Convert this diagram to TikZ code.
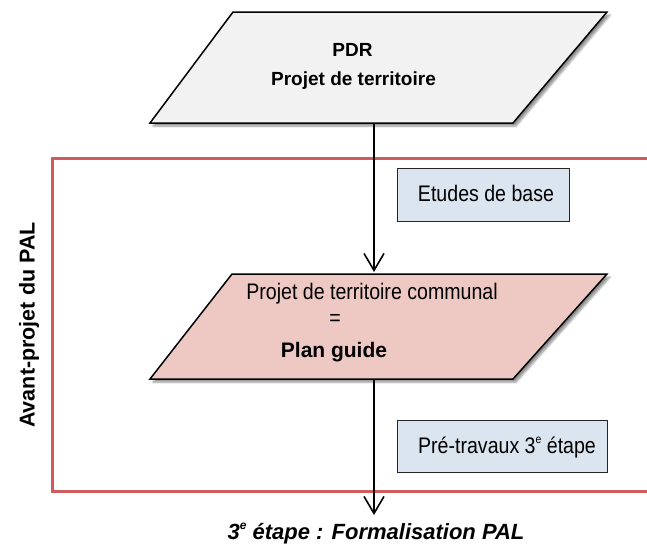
\documentclass[tikz,border=0pt]{standalone}
\usepackage{fontspec}
\setmainfont{Liberation Sans}
\newfontfamily\narrowf[FakeStretch=0.87]{Liberation Sans}
\usetikzlibrary{arrows.meta,shadows.blur}
\definecolor{redline}{RGB}{206,92,92}
\definecolor{greyfill}{RGB}{242,242,242}
\definecolor{pinkfill}{RGB}{238,201,196}
\definecolor{bluefill}{RGB}{219,229,240}
\newcommand{\supe}{\raisebox{0.42em}{\fontsize{12}{12}\selectfont e}}
\tikzset{
  para/.style={draw=black, line width=1.5pt, line join=miter,
    blur shadow={shadow xshift=3pt, shadow yshift=-3pt, shadow blur steps=6, shadow opacity=45}},
  bluebox/.style={draw=black!85, line width=1pt, fill=bluefill, inner sep=0pt},
  regtext/.style={font=\narrowf\fontsize{22.5}{27}\selectfont, inner sep=0pt},
  boldtext/.style={font=\bfseries\fontsize{19}{23}\selectfont, inner sep=0pt},
  flowarrow/.style={draw=black, line width=1.6pt, -{Straight Barb[length=17pt,width=20pt]}},
  redframe/.style={draw=redline, line width=3pt, line join=miter}
}
\begin{document}
\begin{tikzpicture}[x=1pt,y=-1pt]
\useasboundingbox (0,0) rectangle (647,547);
\begin{scope}
\clip (0,0) rectangle (647,547);
% red frame (open at right)
\draw[redframe] (660,158) -- (52,158) -- (52,491) -- (660,491);
\end{scope}

% top parallelogram
\draw[para, fill=greyfill] (233,12) -- (607,12) -- (513,123) -- (150,123) -- cycle;
\node[boldtext, anchor=base] (pdr) at (352.5,56) {PDR};
\node[boldtext, anchor=base] (pdt) at (353.5,85) {Projet de territoire};

% plan guide parallelogram
\draw[para, fill=pinkfill] (232,274) -- (607,274) -- (513,379) -- (150,379) -- cycle;
\node[regtext, anchor=base] (ptc) at (372,299) {Projet de territoire communal};
\node[regtext] (eq) at (335,320) {=};
\node[font=\bfseries\fontsize{21}{25}\selectfont, inner sep=0pt, anchor=base] (pg) at (334,357) {Plan guide};

% side boxes
\node[bluebox, minimum width=172pt, minimum height=53pt] (etudes) at (483,194.5) {};
\node[regtext, anchor=base] (etxt) at (486,201.5) {Etudes de base};
\node[bluebox, minimum width=210pt, minimum height=52pt] (pre) at (502,446) {};
\node[regtext, anchor=base] (ptxt) at (507,453) {Pré-travaux 3\supe{} étape};

% connectors
\coordinate (tpbot) at (374,123);
\coordinate (pgtop) at (374,272);
\coordinate (pgbot) at (374,379);
\coordinate (fend) at (374,515);
\draw[flowarrow] (tpbot) -- (pgtop);
\draw[flowarrow] (pgbot) -- (fend);

% labels
\node[font=\bfseries\itshape\fontsize{22}{26}\selectfont, inner sep=0pt, anchor=base] (final) at (376,539) {3\supe{} étape : Formalisation PAL};
\node[font=\bfseries\fontsize{21.5}{25}\selectfont, inner sep=0pt, rotate=90] (side) at (29,325) {Avant-projet du PAL};
\end{tikzpicture}
\end{document}
